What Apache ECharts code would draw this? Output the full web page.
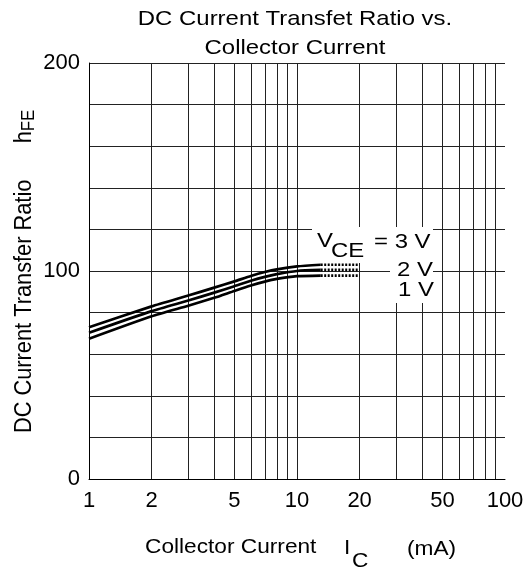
<!DOCTYPE html>
<html>
<head>
<meta charset="utf-8">
<script src="https://cdn.jsdelivr.net/npm/echarts@6/dist/echarts.min.js"></script>
<style>
  html, body { margin: 0; padding: 0; background: #fff; }
  #chart { width: 528px; height: 570px; }
</style>
</head>
<body>
<div id="chart"></div>
<script>
const currents = [1, 2, 3, 4, 5, 6, 7, 8, 10, 13];
const hfe3V = [73, 83, 88.2, 92, 95, 97.6, 99.5, 100.8, 102.2, 103];
const hfe2V = [70.3, 80.7, 85.8, 89.6, 92.7, 95.3, 97.2, 98.5, 100, 100.5];
const hfe1V = [67.4, 78.2, 83.3, 87.1, 90.4, 93, 94.9, 96.2, 97.5, 97.8];
const dottedCurrents = [13, 20];
const xTickLabels = [1, 2, 5, 10, 20, 50, 100];
const yTickLabels = [0, 100, 200];
const xGridValues = [2, 3, 4, 5, 6, 7, 8, 9, 10, 20, 30, 40, 50, 60, 70, 80, 90];

const font = 'Liberation Sans, Arial, sans-serif';
const chart = echarts.init(document.getElementById('chart'), null, { renderer: 'canvas' });

const pairs = (xs, ys) => xs.map((x, i) => [x, ys[i]]);
const solid = (ys) => ({
    type: 'line',
    data: pairs(currents, ys),
    showSymbol: false,
    smooth: 0.2,
    lineStyle: { color: '#000', width: 2.7, join: 'round' },
    z: 5,
});
const dotted = (ys) => ({
    type: 'line',
    data: pairs(dottedCurrents, [ys[ys.length - 1], ys[ys.length - 1]]),
    showSymbol: false,
    lineStyle: { color: '#000', width: 2.7, type: [2, 1.5] },
    z: 5,
});

// stretched text helper (reference text is wider than plain Arial)
const label = (text, x, y, opts = {}) => ({
    type: 'text',
    x,
    y,
    scaleX: opts.sx || 1.14,
    scaleY: opts.sy || 1,
    rotation: opts.rot || 0,
    z: 10,
    style: {
        text,
        fill: '#000',
        font: (opts.size || 21) + 'px ' + font,
        align: opts.align || 'left',
        verticalAlign: 'middle',
        rich: opts.rich,
    },
});
const whiteBox = (x, y, w, h) => ({
    type: 'rect',
    shape: { x, y, width: w, height: h },
    style: { fill: '#fff' },
    z: 9,
});

chart.setOption({
    animation: false,
    backgroundColor: '#fff',
    grid: { left: 89, right: 23, top: 63, bottom: 91, containLabel: false },
    xAxis: {
        type: 'log',
        logBase: 10,
        min: 1,
        max: 100,
        axisLine: { show: true, lineStyle: { color: '#000', width: 1 } },
        axisTick: { show: false },
        splitLine: { show: false },
        axisLabel: {
            color: '#000',
            fontFamily: font,
            fontSize: 22,
            margin: 11,
            customValues: xTickLabels,
            showMinLabel: true,
            showMaxLabel: true,
            hideOverlap: false,
        },
    },
    yAxis: {
        type: 'value',
        min: 0,
        max: 200,
        interval: 20,
        axisLine: { show: true, lineStyle: { color: '#000', width: 1 } },
        axisTick: { show: false },
        splitLine: { show: true, lineStyle: { color: '#222', width: 1 } },
        axisLabel: {
            color: '#000',
            fontFamily: font,
            fontSize: 22,
            margin: 9,
            padding: [0, 0, 10, 0],
            formatter: (v) => yTickLabels.includes(v) ? String(v) : '',
        },
    },
    graphic: [
        label('DC Current Transfet Ratio vs.', 295, 19, { align: 'center' }),
        label('Collector Current', 295, 48, { align: 'center' }),
        label('DC Current Transfer Ratio      h{s|FE}', 24, 433, {
            rot: Math.PI / 2,
            size: 22,
            sx: 0.99,
            sy: 1.1,
            rich: { s: { fontSize: 17, fontFamily: font, fill: '#000', padding: [9, 0, 0, 0] } },
        }),
        label('Collector Current', 145, 547, { sx: 1.08 }),
        label('I', 344, 548, { sx: 1.08 }),
        label('C', 352, 561, { sx: 1.08 }),
        label('(mA)', 407, 549, { sx: 1.08 }),
        whiteBox(312, 227, 121, 36),
        whiteBox(390, 263, 43, 40),
        label('V', 317, 241.5),
        label('CE', 331, 251),
        label('= 3 V', 374, 242.5),
        label('2 V', 397, 270),
        label('1 V', 398, 290),
    ],
    series: [
        {
            type: 'line',
            data: [],
            markLine: {
                silent: true,
                symbol: 'none',
                label: { show: false },
                lineStyle: { color: '#222', width: 1, type: 'solid' },
                data: xGridValues.map((v) => ({ xAxis: v })),
            },
            z: 1,
        },
        solid(hfe3V),
        solid(hfe2V),
        solid(hfe1V),
        dotted(hfe3V),
        dotted(hfe2V),
        dotted(hfe1V),
    ],
});

window.addEventListener('resize', () => chart.resize());
</script>
</body>
</html>
